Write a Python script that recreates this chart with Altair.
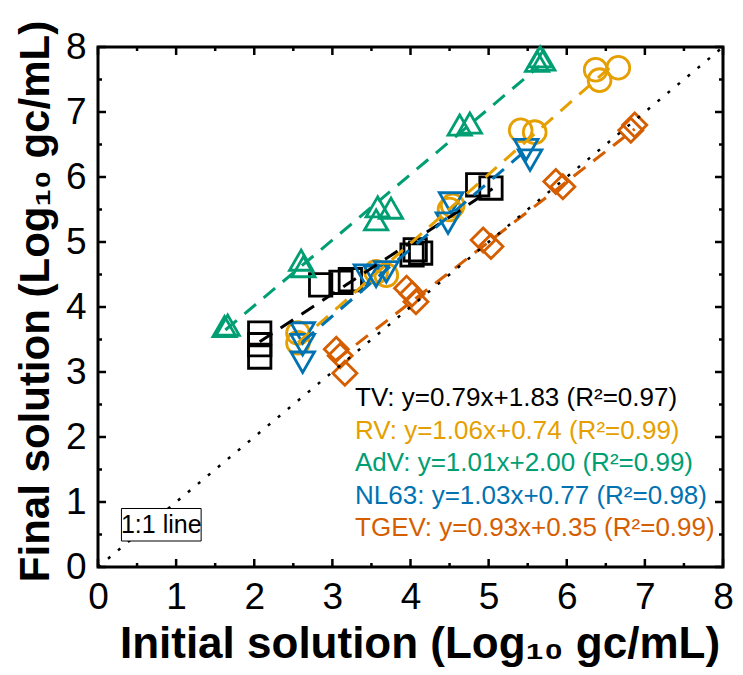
import altair as alt
import pandas as pd

FONT = "Liberation Sans"

series = ["TV", "RV", "AdV", "NL63", "TGEV"]
colors = ["#000000", "#E69F00", "#009E73", "#0072B2", "#D55E00"]
shapes = ["square", "circle", "triangle-up", "triangle-down", "diamond"]
sizes = [500, 580, 1000, 850, 800]

tv_x = [2.07, 2.07, 2.07, 2.85, 3.11, 3.23, 4.02, 4.06, 4.13, 4.86, 5.03]
tv_y = [3.60, 3.42, 3.23, 4.34, 4.38, 4.42, 4.80, 4.88, 4.83, 5.88, 5.83]

rv_x = [2.56, 2.56, 3.56, 3.69, 4.50, 4.54, 5.41, 5.59, 6.37, 6.42, 6.66]
rv_y = [3.60, 3.45, 4.54, 4.49, 5.50, 5.56, 6.72, 6.69, 7.65, 7.49, 7.68]

adv_x = [1.62, 1.66, 2.60, 2.63, 3.56, 3.58, 3.75, 4.63, 4.76, 5.62, 5.66, 5.70]
adv_y = [3.70, 3.72, 4.72, 4.62, 5.34, 5.54, 5.52, 6.80, 6.83, 7.78, 7.85, 7.80]

nl_x = [2.62, 2.62, 2.62, 3.43, 3.56, 3.69, 4.48, 4.52, 5.48, 5.53]
nl_y = [3.60, 3.42, 3.15, 4.49, 4.47, 4.54, 5.29, 5.60, 6.42, 6.26]

tg_x = [3.05, 3.10, 3.16, 3.95, 4.02, 4.07, 4.93, 5.03, 5.86, 5.95, 6.82, 6.87]
tg_y = [3.35, 3.25, 2.98, 4.29, 4.20, 4.08, 5.03, 4.93, 5.93, 5.85, 6.72, 6.80]

slopes = [0.79, 1.06, 1.01, 1.03, 0.93]
intercepts = [1.83, 0.74, 2.00, 0.77, 0.35]
r2 = [0.97, 0.99, 0.99, 0.98, 0.99]
fit_start = [2.07, 2.56, 1.63, 2.62, 3.05]
fit_end = [5.05, 6.55, 5.65, 5.53, 6.87]

major_ticks = [0, 1, 2, 3, 4, 5, 6, 7, 8]
minor_ticks = [0.5, 1.5, 2.5, 3.5, 4.5, 5.5, 6.5, 7.5]

# ---- tables built from the arrays ----
xs = [tv_x, rv_x, adv_x, nl_x, tg_x]
ys = [tv_y, rv_y, adv_y, nl_y, tg_y]
pts = pd.DataFrame(
    [{"x": x, "y": y, "series": s} for s, xl, yl in zip(series, xs, ys) for x, y in zip(xl, yl)]
)
fits = pd.DataFrame(
    [
        {"x": xv, "y": a * xv + b, "series": s}
        for s, a, b, x0, x1 in zip(series, slopes, intercepts, fit_start, fit_end)
        for xv in (x0, x1)
    ]
)
one = pd.DataFrame({"x": [0, 8], "y": [0, 8]})
labels = pd.DataFrame(
    {
        "series": series,
        "label": [f"{s}: y={a:.2f}x+{b:.2f} (R²={r:.2f})" for s, a, b, r in zip(series, slopes, intercepts, r2)],
        "x": [3.29] * 5,
        "y": [2.6, 2.1, 1.6, 1.1, 0.6],
    }
)
box = pd.DataFrame({"x": [0.30], "x2": [1.32], "y": [0.40], "y2": [0.90], "t": ["1:1 line"], "xc": [0.81], "yc": [0.65]})
maj = pd.DataFrame({"x": major_ticks, "y": major_ticks})
mnr = pd.DataFrame({"x": minor_ticks, "y": minor_ticks})

W, H = 625, 520
XS = alt.Scale(domain=[0, 8], nice=False, zero=False)
YS = alt.Scale(domain=[0, 8], nice=False, zero=False)
CS = alt.Scale(domain=series, range=colors)
SS = alt.Scale(domain=series, range=shapes)
ZS = alt.Scale(domain=series, range=sizes)

x_axis = alt.Axis(
    values=major_ticks, format="d", domain=False, ticks=False, grid=False,
    labelFont=FONT, labelFontSize=37, labelColor="black", labelPadding=12,
    labelFlush=False, labelOverlap=False, labelBound=False,
    title="Initial solution (Log₁₀ gc/mL)", titleFont=FONT, titleFontSize=44,
    titleFontWeight="bold", titleColor="black", titleBaseline="alphabetic",
    titleAlign="center", titleX=W / 2 + 9, titleY=90,
)
y_axis = alt.Axis(
    values=major_ticks, format="d", domain=False, ticks=False, grid=False,
    labelFont=FONT, labelFontSize=37, labelColor="black", labelPadding=12,
    labelFlush=False, labelOverlap=False, labelBound=False, labelBaseline="middle",
    title="Final solution (Log₁₀ gc/mL)", titleFont=FONT, titleFontSize=42,
    titleFontWeight="bold", titleColor="black", titleBaseline="alphabetic",
    titleAlign="center", titleAngle=270, titleX=-50, titleY=H / 2 - 6,
)


def X(field="x"):
    return alt.X(f"{field}:Q", scale=XS, axis=x_axis)


def Y(field="y"):
    return alt.Y(f"{field}:Q", scale=YS, axis=y_axis)


points = alt.Chart(pts).mark_point(filled=False, strokeWidth=2.8, opacity=1).encode(
    x=X(), y=Y(),
    color=alt.Color("series:N", scale=CS, legend=None),
    shape=alt.Shape("series:N", scale=SS, legend=None),
    size=alt.Size("series:N", scale=ZS, legend=None),
)

fit_lines = alt.Chart(fits).mark_line(strokeWidth=3, strokeDash=[15, 10]).encode(
    x=X(), y=Y(),
    color=alt.Color("series:N", scale=CS, legend=None),
    detail="series:N",
)

one_line = alt.Chart(one).mark_line(color="black", strokeWidth=2.5, strokeDash=[3, 10]).encode(
    x=X(), y=Y(),
)

texts = alt.Chart(labels).mark_text(align="left", baseline="middle", font=FONT, fontSize=26).encode(
    x=X(), y=Y(),
    text="label:N",
    color=alt.Color("series:N", scale=CS, legend=None),
)

box_rect = alt.Chart(box).mark_rect(fill="white", fillOpacity=1, stroke="black", strokeWidth=1).encode(
    x=X(), x2="x2:Q", y=Y(), y2="y2:Q",
)
box_text = alt.Chart(box).mark_text(align="center", baseline="middle", font=FONT, fontSize=25, color="black").encode(
    x=X("xc"), y=Y("yc"), text="t:N",
)


def xticks(df, length):
    bottom = alt.Chart(df).mark_rule(color="black", strokeWidth=2.5).encode(
        x=X(), y=alt.value(H), y2=alt.value(H - length)
    )
    top = alt.Chart(df).mark_rule(color="black", strokeWidth=2.5).encode(
        x=X(), y=alt.value(0), y2=alt.value(length)
    )
    return [bottom, top]


def yticks(df, length):
    left = alt.Chart(df).mark_rule(color="black", strokeWidth=2.5).encode(
        y=Y(), x=alt.value(0), x2=alt.value(length)
    )
    right = alt.Chart(df).mark_rule(color="black", strokeWidth=2.5).encode(
        y=Y(), x=alt.value(W), x2=alt.value(W - length)
    )
    return [left, right]


tick_layers = xticks(maj, 8) + xticks(mnr, 4) + yticks(maj, 8) + yticks(mnr, 4)

chart = alt.layer(
    points, fit_lines, one_line, texts, box_rect, box_text, *tick_layers
).properties(
    width=W,
    height=H,
    autosize=alt.AutoSizeParams(type="none"),
    padding={"left": 90, "top": 39, "right": 12, "bottom": 100},
).configure_view(stroke="black", strokeWidth=3)

chart.save("out.html", embed_options={"renderer": "svg", "actions": False})
